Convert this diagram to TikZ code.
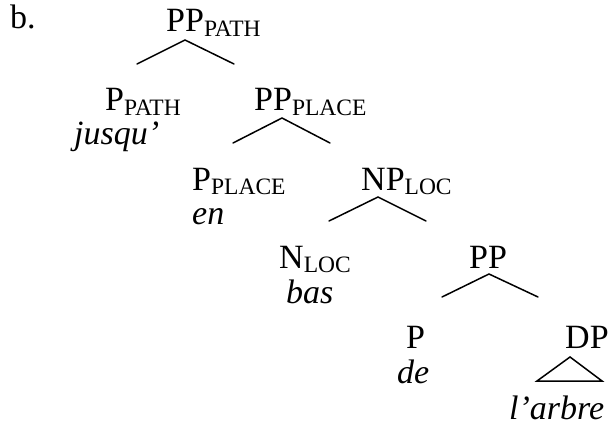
\documentclass[tikz,border=0pt]{standalone}
\usepackage{fontspec}
\setmainfont{Liberation Serif}
% category label with a lowered, smaller subscript feature
\newcommand\catlab[2]{#1\raisebox{-4.5pt}{\fontsize{23.5}{23.5}\selectfont #2}}
\begin{document}
\begin{tikzpicture}[x=1pt,y=-1pt,
  lab/.style={inner sep=0pt,anchor=base west,font=\fontsize{34}{40}\selectfont},
  word/.style={lab,font=\fontsize{34}{40}\selectfont\itshape},
  branch/.style={line width=1.5pt,line cap=round}]
\useasboundingbox (0,0) rectangle (610,433);

% labels and words
\node[lab] (ex) at (10,29) {b.};
\node[lab] (pppath) at (166,32) {\catlab{PP}{PATH}};
\node[lab] (ppath) at (105,111) {\catlab{P}{PATH}};
\node[word] (jusqu) at (74,145) {jusqu’};
\node[lab] (ppplace) at (254,111) {\catlab{PP}{PLACE}};
\node[lab] (pplace) at (192,190) {\catlab{P}{PLACE}};
\node[word] (en) at (192,224) {en};
\node[lab] (nploc) at (361,190) {\catlab{NP}{LOC}};
\node[lab] (nloc) at (279,268) {\catlab{N}{LOC}};
\node[word] (bas) at (286,303) {bas};
\node[lab] (pp) at (469,268) {PP};
\node[lab] (p) at (406,348) {P};
\node[word] (de) at (397,383) {de};
\node[lab] (dp) at (565,348) {DP};
\node[word] (arbre) at (509,419) {l’arbre};

% branch points
\coordinate (a1) at (185,40);  \coordinate (l1) at (137,64);  \coordinate (r1) at (234,64);
\coordinate (a2) at (282,118); \coordinate (l2) at (233,143); \coordinate (r2) at (330,143);
\coordinate (a3) at (378,197); \coordinate (l3) at (329,221); \coordinate (r3) at (426,221);
\coordinate (a4) at (489,274); \coordinate (l4) at (442,297); \coordinate (r4) at (538,297);
\coordinate (a5) at (570,357); \coordinate (l5) at (537,381); \coordinate (r5) at (602,381);

% branches
\draw[branch] (l1) -- (a1) -- (r1);
\draw[branch] (l2) -- (a2) -- (r2);
\draw[branch] (l3) -- (a3) -- (r3);
\draw[branch] (l4) -- (a4) -- (r4);
% triangle over the DP
\draw[branch,line join=miter] (a5) -- (r5) -- (l5) -- cycle;
\end{tikzpicture}
\end{document}
